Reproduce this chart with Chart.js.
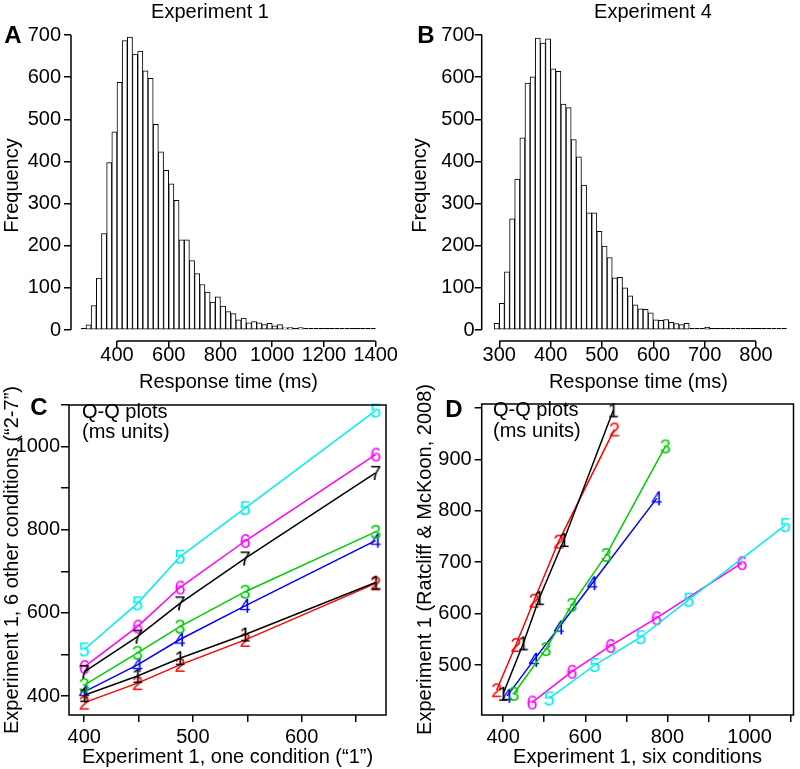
<!DOCTYPE html>
<html>
<head>
<meta charset="utf-8">
<script src="https://cdn.jsdelivr.net/npm/chart.js@4.4.1/dist/chart.umd.min.js"></script>
<style>
  body { margin: 0; background: #fff; width: 800px; height: 769px; position: relative; overflow: hidden; }
  canvas { position: absolute; }
</style>
</head>
<body>
<canvas id="chartA" width="400" height="400" style="left:0;top:0"></canvas>
<canvas id="chartB" width="400" height="400" style="left:400px;top:0"></canvas>
<canvas id="chartC" width="400" height="399" style="left:0;top:370px"></canvas>
<canvas id="chartD" width="400" height="399" style="left:400px;top:370px"></canvas>
<script>
// --- data ---

// histogram A: experiment 1, 20 ms bins starting at 260 ms
const firstBinA = 260;
const binWidthA = 20;
const countsA = [2, 12, 58, 123, 229, 397, 470,
  588, 687, 695, 655, 662, 615, 597, 488, 423, 379,
  347, 308, 214, 214, 165, 134, 108, 90, 66, 79,
  57, 44, 39, 24, 28, 17, 20, 17, 13, 16,
  10, 13, 5, 6, 4, 6, 3, 4, 1, 1,
  1, 1, 1, 2, 1, 1, 1, 1, 1, 1];

// histogram B: experiment 4, 10 ms bins starting at 290 ms
const firstBinB = 290;
const binWidthB = 10;
const countsB = [16,
  63, 138, 264, 358, 456, 586, 601, 693, 681, 691,
  620, 614, 536, 528, 452, 411, 344, 278, 278, 234,
  199, 172, 124, 125, 100, 81, 60, 50, 49, 41,
  24, 23, 25, 18, 15, 13, 16, 4, 4, 3,
  7, 4, 3, 4, 4, 2, 2, 1, 2, 1,
  1, 1, 2, 1, 1, 1];

const xTicksA = [400, 600, 800, 1000, 1200, 1400];
const xTicksB = [300, 400, 500, 600, 700, 800];
const yTicksHist = [0, 100, 200, 300, 400, 500, 600, 700];

// experiment 1 quantiles (ms) for each condition
const cond1 = [400, 449, 488, 548, 668];
const cond2 = [384, 431, 475, 535, 671];
const cond3 = [426, 504, 567, 651, 795];
const cond4 = [410, 475, 536, 617, 774];
const cond5 = [512, 623, 735, 852, 1087];
const cond6 = [470, 567, 661, 773, 981];
const cond7 = [458, 543, 623, 731, 937];
// condition 1 against itself, as plotted in C
const cond1self = [402, 448, 491, 548, 673];

// Ratcliff & McKoon (2008) quantiles for conditions 1-6
const rm1 = [444, 542, 630, 743, 995];
const rm2 = [451, 539, 625, 740, 958];
const rm3 = [444, 531, 617, 714, 925];
const rm4 = [440, 510, 573, 659, 824];
const rm5 = [435, 500, 554, 627, 772];
const rm6 = [427, 487, 537, 591, 698];

const xTicksC = [400, 450, 500, 550, 600, 650];
const xLabelsC = [400, 500, 600];
const yTicksC = [400, 500, 600, 700, 800, 900, 1000, 1100];
const yLabelsC = [400, 600, 800, 1000];

const xTicksD = [400, 500, 600, 700, 800, 900, 1000, 1100];
const xLabelsD = [400, 600, 800, 1000];
const yTicksD = [500, 600, 700, 800, 900, 1000];
const yLabelsD = [500, 600, 700, 800, 900];

const colors = { '1': '#000000', '2': '#ff0000', '3': '#00cd00', '4': '#0000ff', '5': '#00eeee', '6': '#ff00ff', '7': '#000000' };

// --- setup ---
const FONT = '"Liberation Sans", Arial, Helvetica, sans-serif';
const FS = 20;
Chart.defaults.font.family = FONT;
Chart.defaults.font.size = FS;
Chart.defaults.color = '#000';

// digit drawn as a point marker
function digitMark(d) {
  const c = document.createElement('canvas');
  c.width = 16; c.height = 24;
  const g = c.getContext('2d');
  g.font = FS + 'px ' + FONT;
  g.fillStyle = colors[d];
  g.textAlign = 'center';
  g.textBaseline = 'alphabetic';
  g.fillText(d, 8, 19);
  return c;
}

// axis lines, boxes and panel text
const deco = {
  id: 'deco',
  afterDraw(chart, args, o) {
    const ctx = chart.ctx, a = chart.chartArea;
    const sx = chart.scales.x, sy = chart.scales.y;
    ctx.save();
    ctx.strokeStyle = '#000';
    ctx.lineWidth = 1.5;
    if (o.box) ctx.strokeRect(a.left, a.top, a.right - a.left, a.bottom - a.top);
    if (o.xLine) {
      ctx.beginPath();
      ctx.moveTo(sx.getPixelForValue(o.xLine[0]), a.bottom);
      ctx.lineTo(sx.getPixelForValue(o.xLine[1]), a.bottom);
      ctx.stroke();
    }
    if (o.yLine) {
      ctx.beginPath();
      ctx.moveTo(a.left, sy.getPixelForValue(o.yLine[0]));
      ctx.lineTo(a.left, sy.getPixelForValue(o.yLine[1]));
      ctx.stroke();
    }
    ctx.fillStyle = '#000';
    ctx.textBaseline = 'middle';
    (o.texts || []).forEach(t => {
      ctx.font = (t.bold ? 'bold 24px ' : FS + 'px ') + FONT;
      ctx.textAlign = t.align || 'center';
      ctx.fillText(t.t, t.x, t.y);
    });
    ctx.restore();
  }
};

function axis(min, max, tickVals, labelVals, title, o) {
  return {
    type: 'linear', min: min, max: max, offset: false,
    afterBuildTicks: s => { s.ticks = tickVals.map(v => ({ value: v })); },
    afterFit: s => { if (o.height) s.height = o.height; else s.width = o.width; },
    ticks: {
      autoSkip: false, maxRotation: 0, padding: o.pad,
      font: { size: FS, lineHeight: 1 },
      callback: v => labelVals.includes(v) ? String(v) : ''
    },
    grid: { display: true, drawOnChartArea: false, drawTicks: true, tickLength: o.tick || 7, color: '#000', lineWidth: 1.5, offset: false },
    border: { display: false },
    title: { display: true, text: title, padding: o.titlePad, font: { size: FS } }
  };
}

function histogram(id, first, width, counts, xMin, xMax, xTicks, xRange, letter, heading, headX, yAxisW, yPad, yTitlePad, padRight) {
  const pts = counts.map((c, i) => ({ x: first + width * (i + 0.5), y: c }));
  return new Chart(document.getElementById(id), {
    type: 'bar',
    data: { datasets: [{
      data: pts, backgroundColor: '#fff', borderColor: '#000', borderWidth: 1, borderSkipped: false,
      barPercentage: 1, categoryPercentage: 1, minBarLength: 2,
      // tiny bars are drawn as a solid baseline
      inflateAmount: c => (c.raw && c.raw.y <= 4 ? 0 : 'auto')
    }] },
    options: {
      responsive: false, animation: false,
      layout: { padding: { left: 0, right: padRight, top: 30, bottom: 0 } },
      plugins: {
        legend: { display: false }, tooltip: { enabled: false },
        deco: { xLine: xRange, yLine: [0, 700], texts: [
          { t: letter, x: letter === 'A' ? 13 : 26, y: 36, bold: true },
          { t: heading, x: headX, y: 12 }
        ] }
      },
      scales: {
        x: axis(xMin, xMax, xTicks, xTicks, 'Response time (ms)', { height: 59, pad: -2, tick: 6, titlePad: { top: 0, bottom: 6 } }),
        y: axis(-26.1, 711.9, yTicksHist, yTicksHist, 'Frequency', { width: yAxisW, pad: yPad, titlePad: { top: yTitlePad, bottom: 0 } })
      }
    },
    plugins: [deco]
  });
}

histogram('chartA', firstBinA, binWidthA, countsA, 222.2, 1440, xTicksA, [400, 1400], 'A', 'Experiment 1', 210, 71, 3, 0, 14);
histogram('chartB', firstBinB, binWidthB, countsB, 265.7, 876, xTicksB, [300, 800], 'B', 'Experiment 4', 253, 81.7, 0, 8, 5);

function qqSet(d, xs, ys) {
  return {
    label: d,
    data: xs.map((x, i) => ({ x: x, y: ys[i] })),
    borderColor: colors[d], borderWidth: 1.5, tension: 0, fill: false,
    pointStyle: digitMark(d), pointRadius: 5, clip: false
  };
}

new Chart(document.getElementById('chartC'), {
  type: 'line',
  data: { datasets: [
    qqSet('1', cond1, cond1self),
    qqSet('2', cond1, cond2),
    qqSet('3', cond1, cond3),
    qqSet('4', cond1, cond4),
    qqSet('7', cond1, cond7),
    qqSet('6', cond1, cond6),
    qqSet('5', cond1, cond5)
  ] },
  options: {
    responsive: false, animation: false,
    layout: { padding: { left: 0, right: 14, top: 35, bottom: 0 } },
    plugins: {
      legend: { display: false }, tooltip: { enabled: false },
      deco: { box: true, texts: [
        { t: 'C', x: 39, y: 38, bold: true },
        { t: 'Q-Q plots', x: 82, y: 42, align: 'left' },
        { t: '(ms units)', x: 82, y: 62, align: 'left' }
      ] }
    },
    scales: {
      x: axis(386, 677.6, xTicksC, xLabelsC, 'Experiment 1, one condition (\u201c1\u201d)', { height: 54, pad: 5, tick: 7, titlePad: { top: 0, bottom: 0 } }),
      y: axis(354.3, 1100.3, yTicksC, yLabelsC, 'Experiment 1, 6 other conditions (\u201c2-7\u201d)', { width: 69, pad: 1, tick: 8, titlePad: { top: 0, bottom: 0 } })
    }
  },
  plugins: [deco]
});

new Chart(document.getElementById('chartD'), {
  type: 'line',
  data: { datasets: [
    qqSet('1', cond1, rm1),
    qqSet('2', cond2, rm2),
    qqSet('3', cond3, rm3),
    qqSet('4', cond4, rm4),
    qqSet('5', cond5, rm5),
    qqSet('6', cond6, rm6)
  ] },
  options: {
    responsive: false, animation: false,
    layout: { padding: { left: 0, right: 4, top: 34, bottom: 0 } },
    plugins: {
      legend: { display: false }, tooltip: { enabled: false },
      deco: { box: true, texts: [
        { t: 'D', x: 54, y: 40, bold: true },
        { t: 'Q-Q plots', x: 93, y: 40.5, align: 'left' },
        { t: '(ms units)', x: 93, y: 61, align: 'left' }
      ] }
    },
    scales: {
      x: axis(347.8, 1107, xTicksD, xLabelsD, 'Experiment 1, six conditions', { height: 54, pad: 5, tick: 7, titlePad: { top: 0, bottom: 0 } }),
      y: axis(402.8, 1007.5, yTicksD, yLabelsD, 'Experiment 1 (Ratcliff & McKoon, 2008)', { width: 81.7, pad: 3, tick: 7, titlePad: { top: 13, bottom: 0 } })
    }
  },
  plugins: [deco]
});
</script>
</body>
</html>
